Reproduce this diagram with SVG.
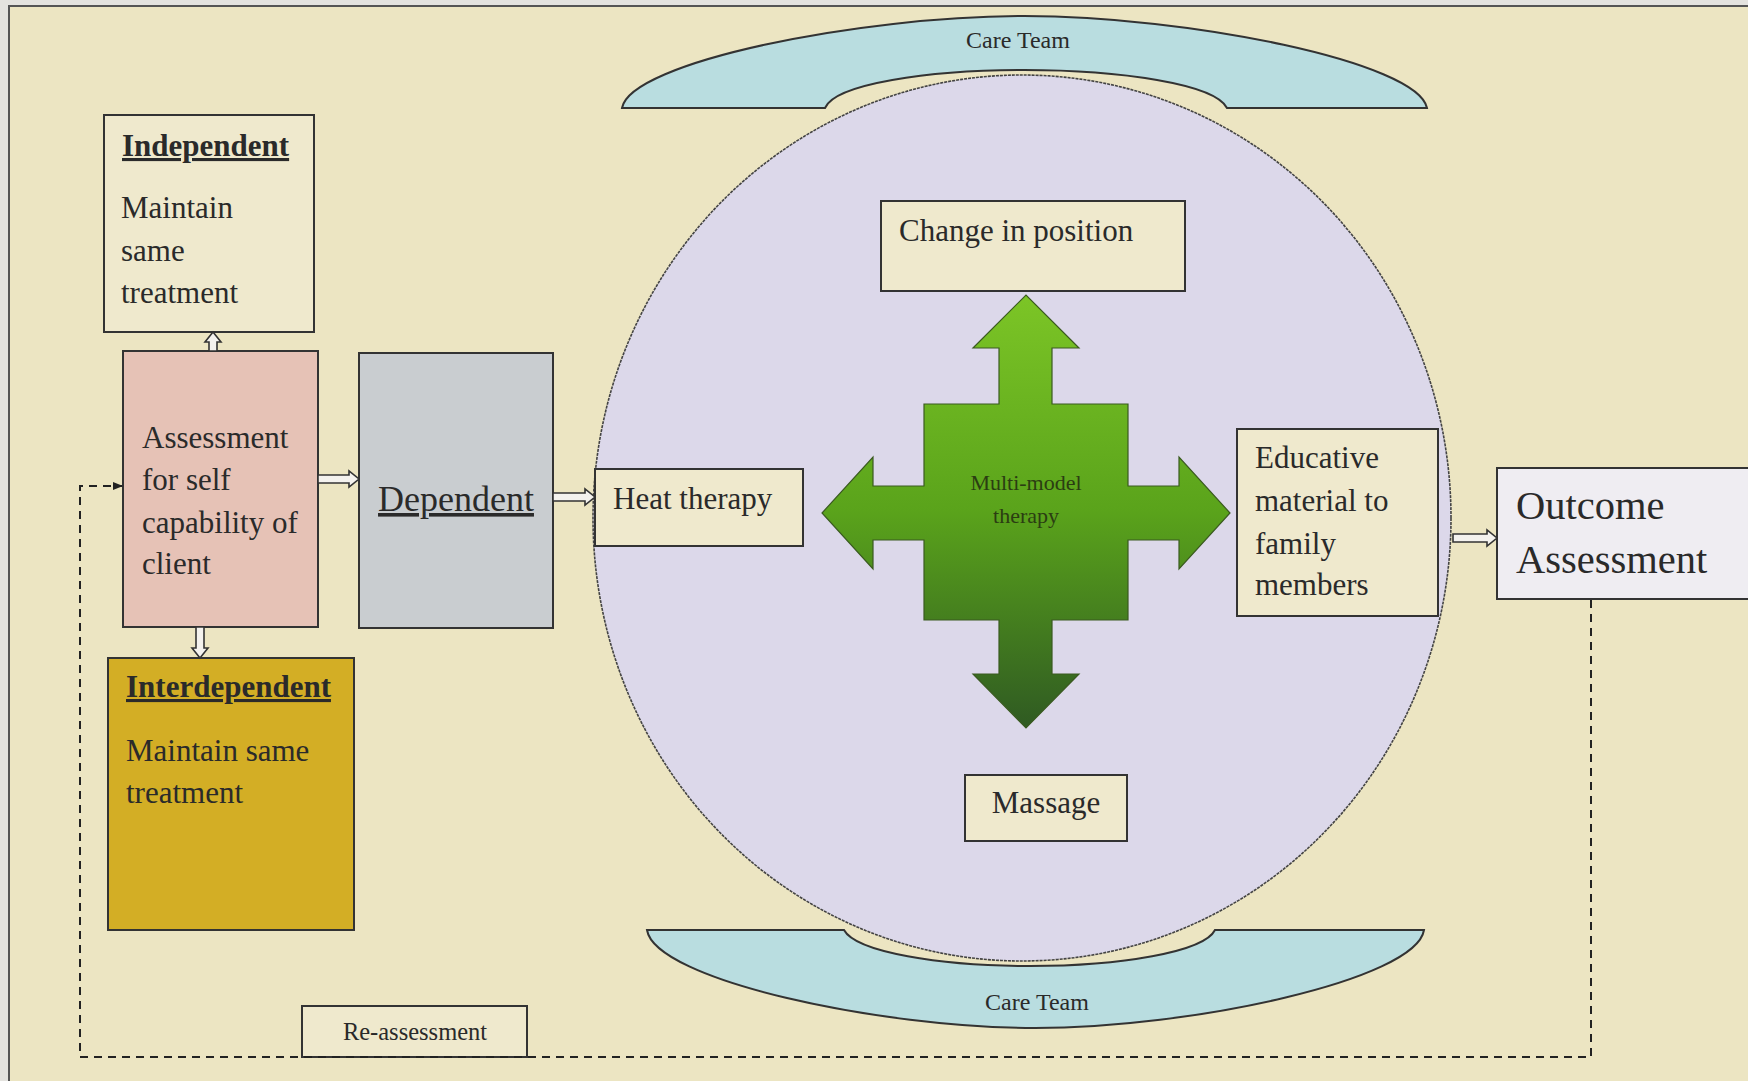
<svg xmlns="http://www.w3.org/2000/svg" width="1748" height="1081" viewBox="0 0 1748 1081">
<defs>
<style>
.t{font-family:"Liberation Serif","Times New Roman",serif;fill:#2a2a2a;font-size:31px}
.b{font-weight:bold;text-decoration:underline}
.s24{font-size:24px}
.s36{font-size:36px}
.s40{font-size:40.5px}
.mm{font-size:22px;fill:#2b3d12}
.ra{font-size:24.5px}
.box{stroke:#333;stroke-width:2}
.ha{fill:#f4f2ee;stroke:#333;stroke-width:1.6}
</style>
<linearGradient id="g" gradientUnits="userSpaceOnUse" x1="0" y1="295" x2="0" y2="728">
<stop offset="0" stop-color="#7cc526"/>
<stop offset="0.5" stop-color="#5aa31b"/>
<stop offset="1" stop-color="#2f5a22"/>
</linearGradient>
<marker id="ah" markerWidth="10" markerHeight="10" refX="9" refY="5" orient="auto" markerUnits="userSpaceOnUse">
<path d="M0,1 L10,5 L0,9 Z" fill="#222"/>
</marker>
</defs>
<rect x="0" y="0" width="1748" height="1081" fill="#e4e3df"/>
<rect x="9" y="6" width="1760" height="1100" fill="#ece5c2" stroke="#555" stroke-width="2"/>

<g id="circle">
<ellipse cx="1022" cy="518" rx="429" ry="443" fill="#dcd8ea" stroke="#444" stroke-width="1.6" stroke-dasharray="3 1"/>
</g>

<g id="care-team-top">
<path d="M 622 108 C 630 62, 860 16, 1024 16 C 1188 16, 1418 62, 1427 108 L 1227 108 C 1215 84, 1120 70, 1024 70 C 928 70, 835 84, 825 108 Z" fill="#b9dde0" stroke="#333" stroke-width="2"/>
<text class="t s24" x="1018" y="48" text-anchor="middle">Care Team</text>
</g>

<g id="care-team-bottom">
<path d="M 647 930 L 844 930 C 856 952, 940 966, 1030 966 C 1120 966, 1204 952, 1215 930 L 1424 930 C 1416 980, 1190 1028, 1035 1028 C 880 1028, 655 980, 647 930 Z" fill="#b9dde0" stroke="#333" stroke-width="2"/>
<text class="t s24" x="1037" y="1010" text-anchor="middle">Care Team</text>
</g>

<g id="independent">
<rect class="box" x="104" y="115" width="210" height="217" fill="#efe9cd"/>
<text class="t b" x="122" y="156">Independent</text>
<text class="t" x="121" y="218">Maintain</text>
<text class="t" x="121" y="261">same</text>
<text class="t" x="121" y="303">treatment</text>
</g>

<g id="assessment">
<rect class="box" x="123" y="351" width="195" height="276" fill="#e6c2b6"/>
<text class="t" x="142" y="448">Assessment</text>
<text class="t" x="142" y="490">for self</text>
<text class="t" x="142" y="533">capability of</text>
<text class="t" x="142" y="574">client</text>
</g>

<g id="dependent">
<rect class="box" x="359" y="353" width="194" height="275" fill="#c9cdd0"/>
<text class="t s36" x="456" y="511" text-anchor="middle" style="text-decoration:underline">Dependent</text>
</g>

<g id="interdependent">
<rect class="box" x="108" y="658" width="246" height="272" fill="#d3ae25"/>
<text class="t b" x="126" y="697">Interdependent</text>
<text class="t" x="126" y="761">Maintain same</text>
<text class="t" x="126" y="803">treatment</text>
</g>

<g id="heat-therapy">
<rect class="box" x="595" y="469" width="208" height="77" fill="#efe9cd"/>
<text class="t" x="613" y="509">Heat therapy</text>
</g>

<g id="change-in-position">
<rect class="box" x="881" y="201" width="304" height="90" fill="#efe9cd"/>
<text class="t" x="899" y="241">Change in position</text>
</g>

<g id="educative">
<rect class="box" x="1237" y="429" width="201" height="187" fill="#efe9cd"/>
<text class="t" x="1255" y="468">Educative</text>
<text class="t" x="1255" y="511">material to</text>
<text class="t" x="1255" y="554">family</text>
<text class="t" x="1255" y="595">members</text>
</g>

<g id="massage">
<rect class="box" x="965" y="775" width="162" height="66" fill="#efe9cd"/>
<text class="t" x="1046" y="813" text-anchor="middle">Massage</text>
</g>

<g id="outcome">
<rect class="box" x="1497" y="468" width="260" height="131" fill="#efedf2"/>
<text class="t s40" x="1516" y="519">Outcome</text>
<text class="t s40" x="1516" y="573">Assessment</text>
</g>

<g id="multi-model">
<path d="M 924 404 L 999 404 L 999 348 L 973 348 L 1026 295 L 1079 348 L 1052 348 L 1052 404 L 1128 404 L 1128 486 L 1179 486 L 1179 457 L 1230 513 L 1179 569 L 1179 540 L 1128 540 L 1128 620 L 1052 620 L 1052 674 L 1079 674 L 1026 728 L 973 674 L 999 674 L 999 620 L 924 620 L 924 540 L 873 540 L 873 569 L 822 513 L 873 457 L 873 486 L 924 486 Z" fill="url(#g)" stroke="#3a5a20" stroke-width="1.2"/>
<text class="t mm" x="1026" y="490" text-anchor="middle">Multi-model</text>
<text class="t mm" x="1026" y="523" text-anchor="middle">therapy</text>
</g>

<g id="reassessment">
<rect class="box" x="302" y="1006" width="225" height="51" fill="#efe9cd"/>
<text class="t ra" x="415" y="1040" text-anchor="middle">Re-assessment</text>
</g>

<g id="connectors">
<path class="ha" d="M 318 475 H 349 V 471 L 359 479 L 349 487 V 483 H 318 Z"/>
<path class="ha" d="M 553 493 H 585 V 489 L 595 497 L 585 505 V 501 H 553 Z"/>
<path class="ha" d="M 1453 534 H 1487 V 530 L 1497 538 L 1487 546 V 542 H 1453 Z"/>
<path class="ha" d="M 209 351 V 342 H 205 L 213 332 L 221 342 H 217 V 351 Z"/>
<path class="ha" d="M 196 627 V 648 H 192 L 200 658 L 208 648 H 204 V 627 Z"/>
<path d="M 1591 600 V 1057 H 80 V 486 H 122" fill="none" stroke="#222" stroke-width="2" stroke-dasharray="8 6" marker-end="url(#ah)"/>
</g>
</svg>
